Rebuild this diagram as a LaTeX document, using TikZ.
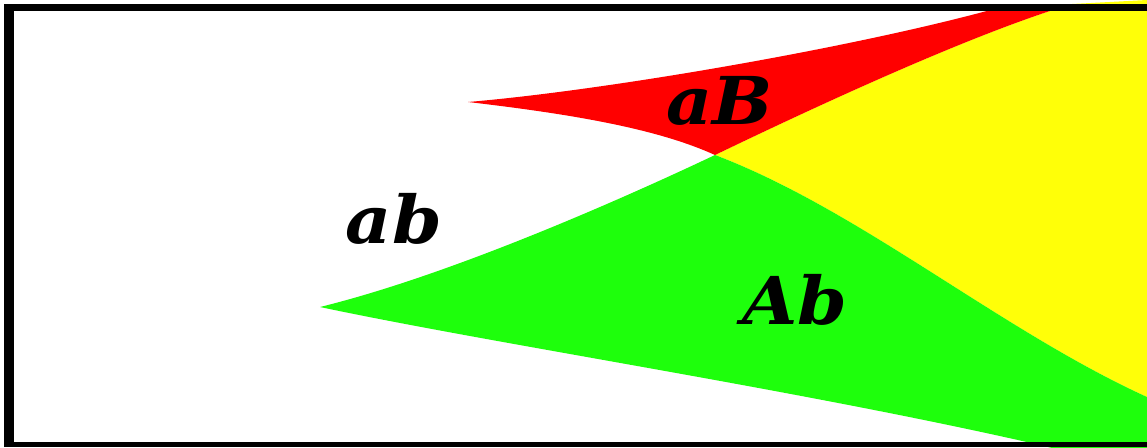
\documentclass[tikz,border=0pt]{standalone}
\usepackage{fontspec}
\setmainfont{DejaVu Serif}
\definecolor{rgnRed}{HTML}{FF0000}
\definecolor{rgnGreen}{HTML}{1EFF0C}
\definecolor{rgnYellow}{HTML}{FFFF08}
\newcommand{\widelbl}[1]{\scalebox{1.08}[1]{#1}}
\tikzset{
  region/.style={draw=none},
  lbl/.style={font=\fontsize{66}{66}\selectfont\bfseries\itshape, inner sep=0pt, anchor=base, text=black},
  framebar/.style={fill=black, draw=none}
}
\begin{document}
\begin{tikzpicture}[x=1pt,y=-1pt]
\clip (0,0) rectangle (1147,447);
\fill[white] (0,0) rectangle (1147,447);
% yellow region
\fill[rgnYellow] (715,155) .. controls (850,90) and (985,30) .. (1072,4)
  -- (1147,0) -- (1147,397)
  .. controls (1000,330) and (860,210) .. (715,155) -- cycle;
% red region
\fill[rgnRed] (468,102) .. controls (610,90) and (870,45) .. (1012,4)
  -- (1072,4)
  .. controls (985,30) and (850,90) .. (715,155)
  .. controls (660,130) and (580,115) .. (468,102) -- cycle;
% green region
\fill[rgnGreen] (320,307) .. controls (450,275) and (620,200) .. (715,155)
  .. controls (860,210) and (1000,330) .. (1147,397)
  -- (1147,470) -- (1080,455)
  -- (1040,445) .. controls (800,390) and (500,345) .. (320,307) -- cycle;
% frame
\fill[framebar] (4,4) rectangle (14,447);
\fill[framebar] (4,4) rectangle (1147,10.5);
\fill[framebar] (4,442) rectangle (1147,447);
% labels
\node[lbl] (laB) at (720,124) {\widelbl{aB}};
\node[lbl] (lab) at (394,243) {\widelbl{ab}};
\node[lbl] (lAb) at (795,324) {\widelbl{Ab}};
\end{tikzpicture}
\end{document}
